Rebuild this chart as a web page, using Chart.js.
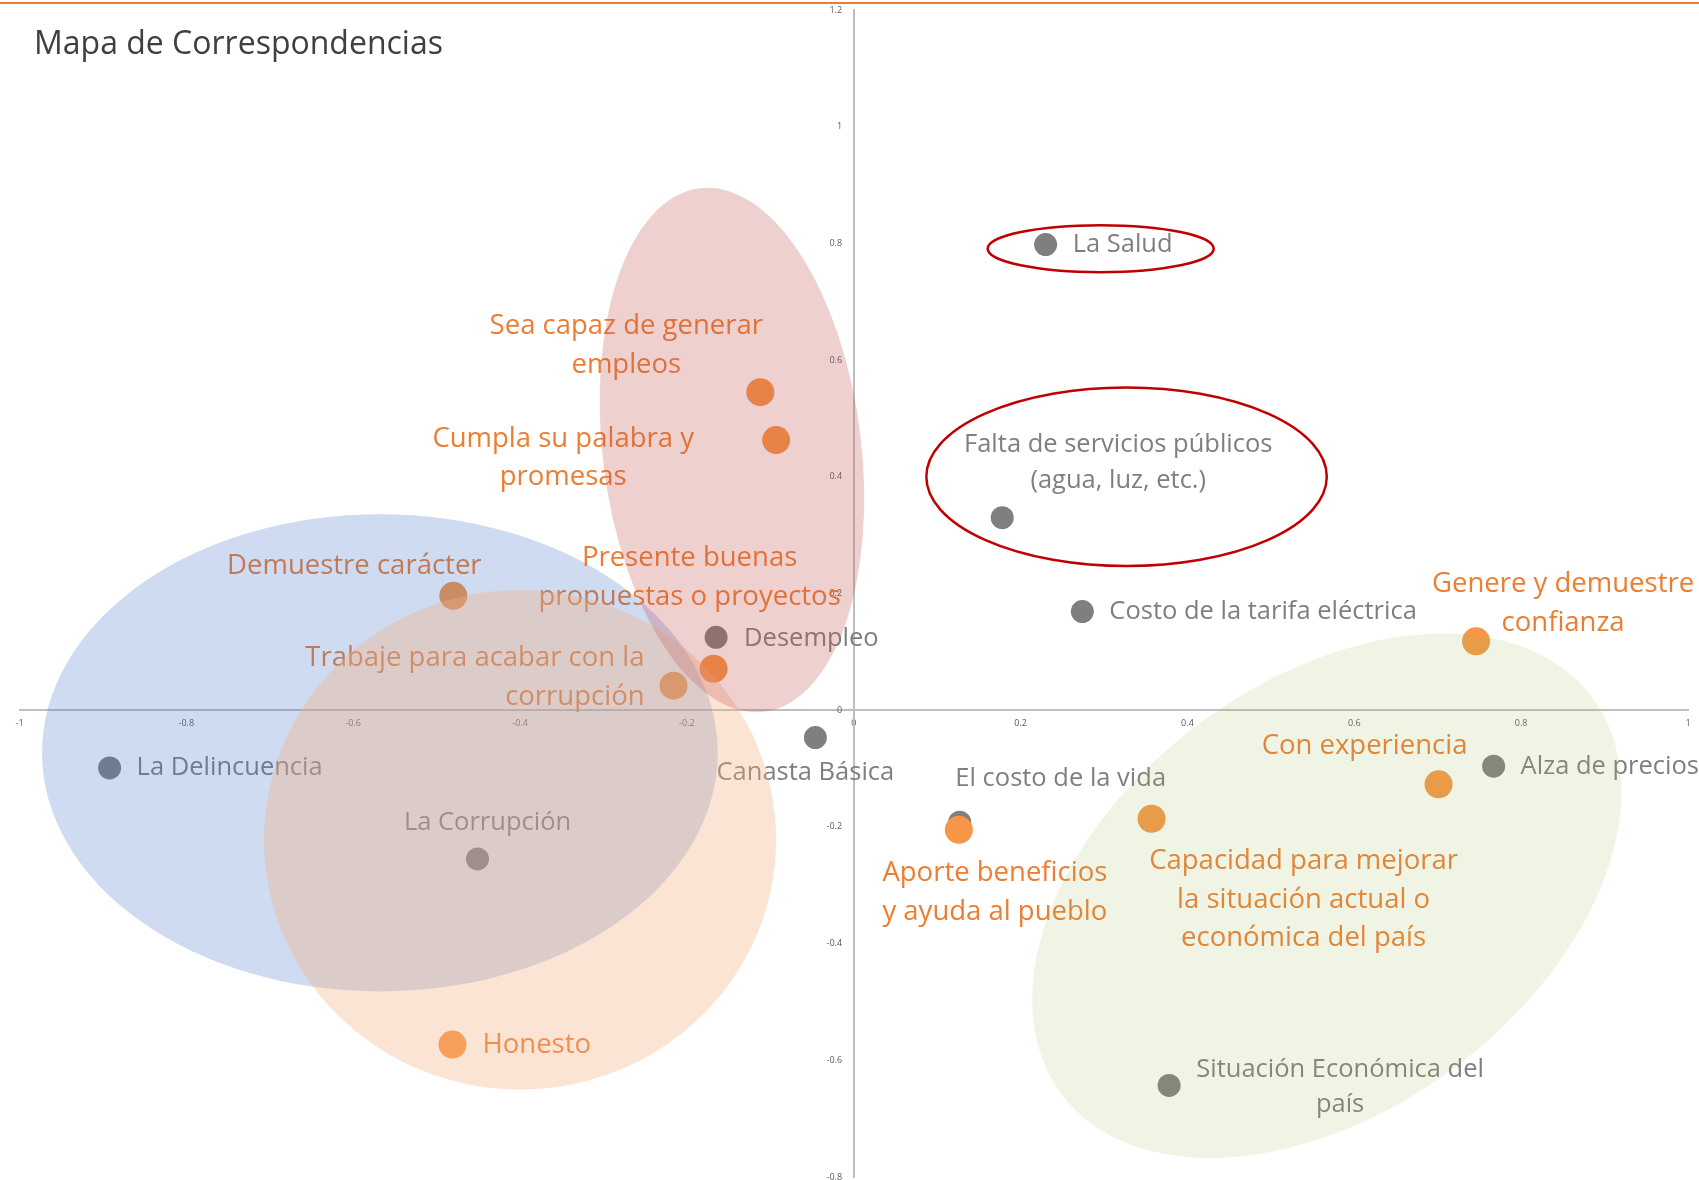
<!DOCTYPE html>
<html lang="es">
<head>
<meta charset="utf-8">
<title>Mapa de Correspondencias</title>
<script src="https://cdn.jsdelivr.net/npm/chart.js@4.4.1/dist/chart.umd.min.js"></script>
<style>
  html, body { margin: 0; padding: 0; background: #fff; }
  #wrap { position: relative; width: 1699px; height: 1180px; overflow: hidden; }
  #grafico { position: absolute; left: 0; top: -7px; }
  #linea { position: absolute; left: 0; top: 2px; width: 1699px; height: 2px; background: #ed7d31; }
  #titulo {
    position: absolute; left: 34px; top: 20px;
    font-family: 'Open Sans', sans-serif; font-size: 32px; line-height: 44px;
    color: #404040; white-space: nowrap;
  }
</style>
</head>
<body>
<div id="wrap">
  <canvas id="grafico" width="1705" height="1201"></canvas>
  <div id="linea"></div>
  <div id="titulo">Mapa de Correspondencias</div>
</div>
<script>
// problemas del pais (puntos grises)
const problemas = [
  'La Salud',
  'Falta de servicios públicos\n(agua, luz, etc.)',
  'Costo de la tarifa eléctrica',
  'Desempleo',
  'Canasta Básica',
  'La Delincuencia',
  'La Corrupción',
  'El costo de la vida',
  'Alza de precios',
  'Situación Económica del\npaís'
];
const problemasX = [0.230, 0.178, 0.274, -0.165, -0.046, -0.892, -0.451, 0.127, 0.767, 0.378];
const problemasY = [0.798, 0.330, 0.169, 0.125, -0.047, -0.099, -0.255, -0.192, -0.096, -0.643];

// atributos del candidato (puntos naranjas)
const atributos = [
  'Sea capaz de generar\nempleos',
  'Cumpla su palabra y\npromesas',
  'Demuestre carácter',
  'Presente buenas\npropuestas o proyectos',
  'Trabaje para acabar con la\ncorrupción',
  'Honesto',
  'Aporte beneficios\ny ayuda al pueblo',
  'Capacidad para mejorar\nla situación actual o\neconómica del país',
  'Con experiencia',
  'Genere y demuestre\nconfianza'
];
const atributosX = [-0.112, -0.093, -0.480, -0.168, -0.216, -0.481, 0.126, 0.357, 0.701, 0.746];
const atributosY = [0.545, 0.463, 0.196, 0.071, 0.042, -0.573, -0.205, -0.186, -0.127, 0.118];

const ticksX = [-1, -0.8, -0.6, -0.4, -0.2, 0, 0.2, 0.4, 0.6, 0.8, 1];
const ticksY = [-0.8, -0.6, -0.4, -0.2, 0, 0.2, 0.4, 0.6, 0.8, 1, 1.2];

// donde va cada etiqueta respecto a su punto (px)
const posProblemas = [
  { dx: 27, dy: [0], align: 'left' },
  { dx: 116, dy: [-73, -37], align: 'center' },
  { dx: 27, dy: [0], align: 'left' },
  { dx: 28, dy: [1], align: 'left' },
  { dx: -10, dy: [35], align: 'center' },
  { dx: 27, dy: [0], align: 'left' },
  { dx: 10, dy: [-36], align: 'center' },
  { dx: 101, dy: [-43], align: 'center' },
  { dx: 27, dy: [1], align: 'left' },
  { dx: 171, dy: [-16, 19], align: 'center' }
];
const posAtributos = [
  { dx: -134, dy: [-66, -27], align: 'center' },
  { dx: -213, dy: [-1, 37], align: 'center' },
  { dx: -99, dy: [-30], align: 'center' },
  { dx: -24, dy: [-111, -72], align: 'center' },
  { dx: -29, dy: [-28, 11], align: 'right' },
  { dx: 30, dy: [1], align: 'left' },
  { dx: 36, dy: [43, 82], align: 'center' },
  { dx: 152, dy: [42, 81, 119], align: 'center' },
  { dx: -74, dy: [-38], align: 'center' },
  { dx: 87, dy: [-57, -18], align: 'center' }
];

// agrupaciones (centro en unidades del grafico, rot en grados)
const zonas = [
  { cx: -0.568, cy: -0.073, rx: 0.405, ry: 0.409, rot: 0, fill: 'rgba(68, 114, 196, 0.26)' },
  { cx: -0.400, cy: -0.222, rx: 0.307, ry: 0.428, rot: 0, fill: 'rgba(244, 177, 131, 0.35)' },
  { cx: -0.146, cy: 0.446, rx: 0.155, ry: 0.452, rot: -7, fill: 'rgba(192, 80, 77, 0.27)' },
  { cx: 0.567, cy: -0.318, rx: 0.397, ry: 0.367, rot: -36.8, fill: 'rgba(155, 187, 89, 0.16)' },
  { cx: 0.296, cy: 0.791, rx: 0.1355, ry: 0.0403, rot: 0, stroke: '#c00000' },
  { cx: 0.327, cy: 0.400, rx: 0.240, ry: 0.153, rot: 0, stroke: '#c00000' }
];

function dibujarEtiquetas(chart, idx, nombres, pos, color, size) {
  const ctx = chart.ctx;
  const meta = chart.getDatasetMeta(idx);
  ctx.save();
  ctx.font = size + 'px "Open Sans"';
  ctx.fillStyle = color;
  ctx.textBaseline = 'middle';
  meta.data.forEach((pt, i) => {
    const p = pos[i];
    ctx.textAlign = p.align;
    nombres[i].split('\n').forEach((t, k) => {
      ctx.fillText(t, pt.x + p.dx, pt.y + p.dy[k]);
    });
  });
  ctx.restore();
}

const etiquetasPlugin = {
  id: 'etiquetas',
  afterDatasetsDraw(chart) {
    dibujarEtiquetas(chart, 1, problemas, posProblemas, '#7f7f7f', 25.5);
    dibujarEtiquetas(chart, 0, atributos, posAtributos, '#ed7d31', 27.5);
  }
};

const zonasPlugin = {
  id: 'zonas',
  afterDraw(chart) {
    const ctx = chart.ctx;
    const sx = chart.scales.x, sy = chart.scales.y;
    const ux = sx.getPixelForValue(1) - sx.getPixelForValue(0);
    const uy = sy.getPixelForValue(0) - sy.getPixelForValue(1);
    ctx.save();
    zonas.forEach(z => {
      ctx.beginPath();
      ctx.ellipse(sx.getPixelForValue(z.cx), sy.getPixelForValue(z.cy),
        z.rx * ux, z.ry * uy, z.rot * Math.PI / 180, 0, Math.PI * 2);
      if (z.fill) {
        ctx.fillStyle = z.fill;
        ctx.fill();
      } else {
        ctx.strokeStyle = z.stroke;
        ctx.lineWidth = 2.5;
        ctx.stroke();
      }
    });
    ctx.restore();
  }
};

const tickFont = { family: 'Open Sans', size: 9 };

new Chart(document.getElementById('grafico'), {
  type: 'scatter',
  data: {
    datasets: [
      {
        label: 'Atributos',
        data: atributosX.map((x, i) => ({ x: x, y: atributosY[i] })),
        pointRadius: 14,
        pointBackgroundColor: '#f79646',
        pointBorderWidth: 0,
        order: 0
      },
      {
        label: 'Problemas',
        data: problemasX.map((x, i) => ({ x: x, y: problemasY[i] })),
        pointRadius: 11.5,
        pointBackgroundColor: '#7f7f7f',
        pointBorderWidth: 0,
        order: 1
      }
    ]
  },
  options: {
    responsive: false,
    animation: false,
    events: [],
    layout: { padding: { left: 19.5, right: 17, top: 17, bottom: 17 } },
    scales: {
      x: {
        type: 'linear',
        min: -1,
        max: 1,
        position: { y: 0 },
        afterBuildTicks: s => { s.ticks = ticksX.map(v => ({ value: v })); },
        grid: { display: false, drawTicks: false },
        border: { display: true, color: '#bfbfbf', width: 2 },
        ticks: {
          padding: 8, color: '#595959', font: tickFont, maxRotation: 0,
          callback: v => String(v)
        }
      },
      y: {
        type: 'linear',
        min: -0.8,
        max: 1.2,
        position: { x: 0 },
        afterBuildTicks: s => { s.ticks = ticksY.map(v => ({ value: v })); },
        grid: { display: false, drawTicks: false },
        border: { display: true, color: '#bfbfbf', width: 2 },
        ticks: {
          padding: 0, color: '#595959', font: tickFont,
          callback: v => String(v) + '     '
        }
      }
    },
    plugins: {
      legend: { display: false },
      tooltip: { enabled: false }
    }
  },
  plugins: [etiquetasPlugin, zonasPlugin]
});
</script>
</body>
</html>
